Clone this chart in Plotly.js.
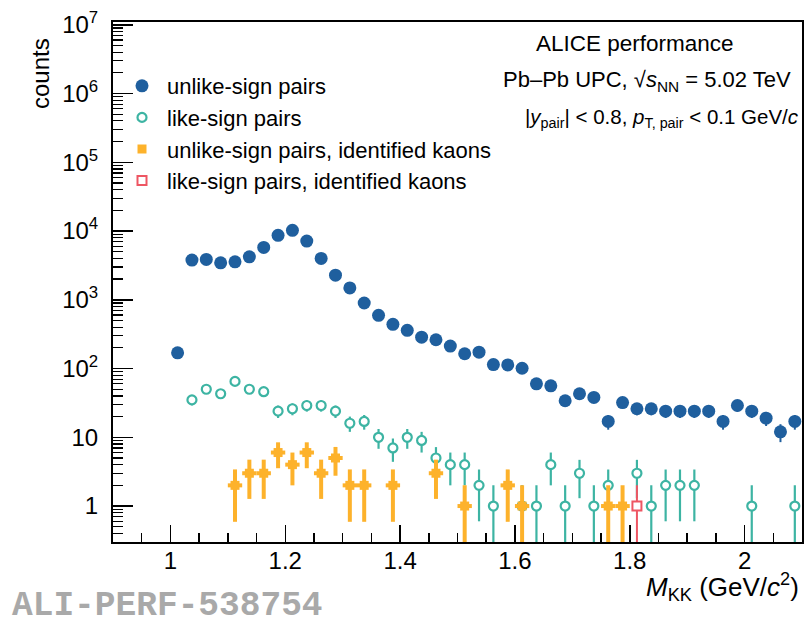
<!DOCTYPE html>
<html><head><meta charset="utf-8">
<script src="https://cdn.plot.ly/plotly-3.0.1.min.js"></script>
<style>html,body{margin:0;padding:0;background:#fff}#chart{width:805px;height:619px}</style>
</head><body><div id="chart"></div>
<script>
// ---- data ----
const massBins = [1.0125,1.0375,1.0625,1.0875,1.1125,1.1375,1.1625,1.1875,1.2125,1.2375,1.2625,1.2875,1.3125,1.3375,1.3625,1.3875,1.4125,1.4375,1.4625,1.4875,1.5125,1.5375,1.5625,1.5875,1.6125,1.6375,1.6625,1.6875,1.7125,1.7375,1.7625,1.7875,1.8125,1.8375,1.8625,1.8875,1.9125,1.9375,1.9625,1.9875,2.0125,2.0375,2.0625,2.0875];
const unlikeCounts = [169,3775,3865,3445,3565,4215,5780,8650,10230,7150,3990,2280,1487,898,594,439,359,286,262,212,164,173,114,113,101,60,56,34,43,38,17,32,26,26,24,24,24,24,17,29,24,19,12,17];
const unlikeErr = [13,61,62,59,60,65,76,93,101,85,63,48,39,30,24,21,19,17,16,15,13,13,11,11,10,7.7,7.5,5.8,6.6,6.2,4.1,5.7,5.1,5.1,4.9,4.9,4.9,4.9,4.1,5.4,4.9,4.4,3.5,4.1];

const likeMass = [1.0375,1.0625,1.0875,1.1125,1.1375,1.1625,1.1875,1.2125,1.2375,1.2625,1.2875,1.3125,1.3375,1.3625,1.3875,1.4125,1.4375,1.4625,1.4875,1.5125,1.5375,1.5625,1.6125,1.6375,1.6625,1.6875,1.7125,1.7375,1.7625,1.8125,1.8375,1.8625,1.8875,1.9125,2.0125,2.0875];
const likeCounts = [35,50,43,65,50,46,24,26,29,29,24,16,17,10,7,10,9,5,4,4,2,1,1,1,4,1,3,1,2,3,1,2,2,2,1,1];
const likeErr = [5.9,7.1,6.6,8.1,7.1,6.8,4.9,5.1,5.4,5.4,4.9,4,4.1,3.2,2.6,3.2,3,2.2,2,2,1.4,1,1,1,2,1,1.7,1,1.4,1.7,1,1.4,1.4,1.4,1,1];

const kaonMass = [1.1125,1.1375,1.1625,1.1875,1.2125,1.2375,1.2625,1.2875,1.3125,1.3375,1.3875,1.4625,1.5125,1.5875,1.6125,1.7625,1.7875];
const kaonCounts = [2,3,3,6,4,6,3,5,2,2,2,3,1,2,1,1,1];
const kaonErr = [1.41,1.73,1.73,2.45,2,2.45,1.73,2.24,1.41,1.41,1.41,1.73,1,1.41,1,1,1];

const likeKaonMass = [1.8125];
const likeKaonCounts = [1];
const likeKaonErr = [1];

const seriesNames = ['unlike-sign pairs','like-sign pairs','unlike-sign pairs, identified kaons','like-sign pairs, identified kaons'];
const yTickVals = [1,10,100,1000,10000,100000,1000000,10000000];
const yTickText = ['1','10','10<sup>2</sup>','10<sup>3</sup>','10<sup>4</sup>','10<sup>5</sup>','10<sup>6</sup>','10<sup>7</sup>'];

// ---- styling ----
const BLUE='#1f5f9e', TEAL='#3db4a3', ORANGE='#fdb22b', RED='#ee5663';
const FONT='Liberation Sans, Arial, Helvetica, sans-serif';

const traces = [
  {x: massBins, y: unlikeCounts, name: seriesNames[0], type:'scatter', mode:'markers',
   marker:{symbol:'circle', size:13, color:BLUE},
   error_y:{type:'data', array:unlikeErr, visible:true, thickness:2, width:0, color:BLUE}},
  {x: likeMass, y: likeCounts, name: seriesNames[1], type:'scatter', mode:'markers',
   marker:{symbol:'circle', size:9, color:'#ffffff', line:{color:TEAL, width:2.2}},
   error_y:{type:'data', array:likeErr, visible:true, thickness:2.2, width:0, color:TEAL}},
  {x: kaonMass, y: kaonCounts, name: seriesNames[2], type:'scatter', mode:'markers',
   marker:{symbol:'square', size:9, color:ORANGE},
   error_y:{type:'data', array:kaonErr, visible:true, thickness:4, width:0, color:ORANGE},
   error_x:{type:'constant', value:0.0125, visible:true, thickness:4, width:0, color:ORANGE}},
  {x: likeKaonMass, y: likeKaonCounts, name: seriesNames[3], type:'scatter', mode:'markers',
   marker:{symbol:'square', size:9, color:'#ffffff', line:{color:RED, width:2}},
   error_y:{type:'data', array:likeKaonErr, visible:true, thickness:2, width:0, color:RED}}
];

// minor tick positions for log axis (2..9 per decade)
const minorY = [];
for (let e=-1; e<=6; e++) for (let m=2; m<=9; m++) minorY.push(m*Math.pow(10,e));

const L=113, T=22, W=689, H=520;
const px = v => (v-L)/W;
const py = v => 1-(v-T)/H;

const layout = {
  width:805, height:619,
  margin:{l:L, r:805-L-W, t:T, b:619-T-H, pad:0},
  paper_bgcolor:'#ffffff', plot_bgcolor:'#ffffff',
  font:{family:FONT, color:'#000', size:22},
  showlegend:true,
  legend:{x:px(117), y:py(65), xanchor:'left', yanchor:'top', bgcolor:'rgba(0,0,0,0)', itemwidth:40,
          font:{family:FONT, size:22, color:'#000'}, tracegroupgap:0},
  xaxis:{range:[0.9,2.1], tick0:0, dtick:0.2, ticks:'inside', ticklen:17, tickwidth:1.5, tickcolor:'#000',
         showline:true, linewidth:2, linecolor:'#000', mirror:true, showgrid:false, zeroline:false,
         tickfont:{family:FONT, size:24, color:'#000'}, ticklabelstandoff:-4,
         minor:{tick0:0, dtick:0.05, ticks:'inside', ticklen:9, tickwidth:1.5, tickcolor:'#000', showgrid:false}},
  yaxis:{type:'log', range:[Math.log10(0.3), 7.04], tickmode:'array', tickvals:yTickVals, ticktext:yTickText,
         ticks:'inside', ticklen:20, tickwidth:1.5, tickcolor:'#000',
         showline:true, linewidth:2, linecolor:'#000', mirror:true, showgrid:false, zeroline:false,
         tickfont:{family:FONT, size:24, color:'#000'}, ticklabelstandoff:8,
         minor:{tickmode:'array', tickvals:minorY, ticks:'inside', ticklen:10, tickwidth:1.2, tickcolor:'#000', showgrid:false}},
  annotations:[
    {text:'ALICE performance', xref:'paper', yref:'paper', x:px(635), y:py(44), xanchor:'center', yanchor:'middle', showarrow:false, font:{family:FONT,size:22.5,color:'#000'}},
    {text:'Pb–Pb UPC, √<i>s</i><sub>NN</sub> = 5.02 TeV', xref:'paper', yref:'paper', x:px(793), y:py(81), xanchor:'right', yanchor:'middle', showarrow:false, font:{family:FONT,size:22,color:'#000'}},
    {text:'|<i>y</i><sub>pair</sub>| < 0.8, <i>p</i><sub>T, pair</sub> < 0.1 GeV/<i>c</i>', xref:'paper', yref:'paper', x:px(801), y:py(118), xanchor:'right', yanchor:'middle', showarrow:false, font:{family:FONT,size:20.5,color:'#000'}},
    {text:'counts', xref:'paper', yref:'paper', x:px(41), y:py(74), xanchor:'center', yanchor:'middle', textangle:-90, showarrow:false, font:{family:FONT,size:24,color:'#000'}},
    {text:'<i>M</i><sub>KK</sub> (GeV/<i>c</i><sup>2</sup>)', xref:'paper', yref:'paper', x:px(801), y:py(587), xanchor:'right', yanchor:'middle', showarrow:false, font:{family:FONT,size:26,color:'#000'}},
    {text:'<b>ALI-PERF-538754</b>', xref:'paper', yref:'paper', x:px(10), y:py(605), xanchor:'left', yanchor:'middle', showarrow:false, font:{family:'Liberation Mono, Courier New, monospace',size:34.5,color:'#a9a9a9'}}
  ]
};

Plotly.newPlot('chart', traces, layout, {displayModeBar:false, staticPlot:true});
</script></body></html>
